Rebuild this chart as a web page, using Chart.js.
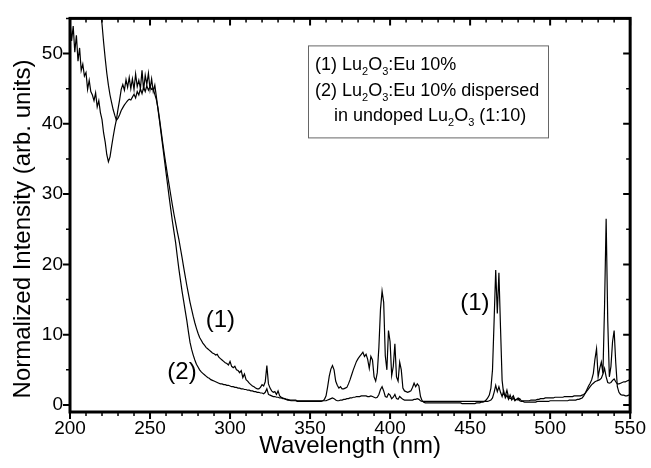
<!DOCTYPE html>
<html>
<head>
<meta charset="utf-8">
<script src="https://cdn.jsdelivr.net/npm/chart.js@4.4.1/dist/chart.umd.min.js"></script>
<style>
  html, body { margin: 0; padding: 0; background: #fff; }
  #wrap { width: 651px; height: 468px; }
</style>
</head>
<body>
<div id="wrap"><canvas id="spectra" width="651" height="468"></canvas></div>
<script>
// excitation spectra, one value per nm from 200 to 550 nm
const WL_START = 200;
const WL_END = 550;

// (1) Lu2O3:Eu 10%
const lu2o3Eu = [
  150, 145, 140, 135, 130, 125, 120, 115, 110, 105,        // 200
  100, 95, 90, 85, 80, 75, 70, 65, 59.5, 56.8,             // 210
  54.2, 51.6, 49.3, 47.2, 45.5, 44.1, 43.0, 42.0, 41.2, 40.5, // 220
  40.8, 41.3, 41.9, 42.3, 42.7, 43.0, 43.3, 43.5, 43.4, 43.8, // 230
  44.2, 43.7, 44.6, 44.1, 45.0, 44.3, 45.2, 44.6, 45.4, 44.8, // 240
  45.3, 44.9, 45.0, 44.2, 43.4, 42.2, 40.6, 38.9, 37.2, 35.6, // 250
  34.1, 32.6, 31.2, 29.8, 28.4, 27.1, 25.9, 24.7, 23.6, 22.3, // 260
  21.0, 19.6, 18.3, 17.0, 15.8, 14.6, 13.6, 12.6, 11.7, 10.9, // 270
  10.2, 9.6, 9.2, 8.8, 8.5, 8.2, 8.0, 7.8, 7.6, 7.4,        // 280
  7.3, 7.1, 7.2, 6.8, 6.6, 6.4, 6.2, 6.0, 5.9, 5.7,         // 290
  6.2, 5.5, 5.3, 5.5, 5.0, 4.9, 4.6, 4.9, 3.9, 4.4,         // 300
  3.6, 3.4, 3.1, 2.9, 2.7, 2.6, 2.4, 2.3, 2.3, 2.5,         // 310
  2.9, 2.7, 3.3, 5.6, 3.0, 2.4, 2.0, 1.8, 1.9, 1.5,         // 320
  2.0, 1.3, 1.1, 1.0, 0.9, 0.8, 0.7, 0.7, 0.6, 0.6,         // 330
  0.6, 0.6, 0.5, 0.5, 0.5, 0.5, 0.5, 0.5, 0.5, 0.5,         // 340
  0.5, 0.5, 0.5, 0.5, 0.5, 0.5, 0.5, 0.5, 0.6, 0.8,         // 350
  1.3, 2.6, 4.1, 5.1, 5.6, 5.0, 3.4, 2.8, 2.4, 2.6,         // 360
  2.3, 2.3, 2.4, 2.5, 3.0, 3.6, 4.3, 5.0, 5.6, 6.2,         // 370
  6.6, 6.9, 7.2, 7.5, 6.9, 7.2, 6.5, 5.2, 6.9, 6.4,         // 380
  4.0, 3.4, 4.6, 8.2, 13.6, 16.2, 14.6, 7.0, 5.0, 10.6,     // 390
  9.0, 4.2, 5.5, 8.7, 4.0, 3.4, 6.1, 5.0, 2.4, 2.0,         // 400
  1.9, 1.8, 1.9, 2.0, 2.5, 3.1, 2.6, 3.0, 2.7, 1.2,         // 410
  0.6, 0.4, 0.3, 0.3, 0.3, 0.3, 0.3, 0.3, 0.3, 0.3,         // 420
  0.3, 0.3, 0.3, 0.3, 0.3, 0.3, 0.3, 0.3, 0.3, 0.3,         // 430
  0.3, 0.3, 0.3, 0.3, 0.3, 0.2, 0.2, 0.2, 0.2, 0.2,         // 440
  0.2, 0.2, 0.2, 0.2, 0.3, 0.3, 0.3, 0.4, 0.4, 0.5,         // 450
  0.7, 1.0, 1.4, 2.4, 5.0, 12.0, 19.2, 13.0, 18.8, 11.0,    // 460
  3.5, 1.5, 1.3, 2.1, 1.1, 0.9, 1.0, 1.3, 0.7, 0.8,         // 470
  1.0, 0.6, 0.5, 0.5, 0.4, 0.4, 0.4, 0.4, 0.4, 0.4,         // 480
  0.4, 0.4, 0.5, 0.5, 0.5, 0.5, 0.5, 0.5, 0.5, 0.5,         // 490
  0.6, 0.6, 0.6, 0.6, 0.6, 0.6, 0.6, 0.6, 0.6, 0.6,         // 500
  0.6, 0.6, 0.7, 0.7, 0.7, 0.7, 0.7, 0.8, 0.8, 0.9,         // 510
  1.0, 1.3, 1.7, 2.2, 2.7, 3.1, 3.6, 4.5, 6.5, 8.0,         // 520
  4.0, 5.2, 6.1, 4.5, 14.0, 26.5, 12.0, 4.0, 5.5, 9.0,      // 530
  10.6, 6.0, 2.6, 1.8, 1.5, 1.4, 1.4, 1.3, 1.3, 1.4,        // 540
  1.4                                                       // 550
];

// (2) Lu2O3:Eu 10% dispersed in undoped Lu2O3 (1:10)
const lu2o3EuDispersed = [
  54.6, 51.8, 53.9, 50.2, 52.6, 48.9, 50.8, 47.6, 48.5, 46.8, // 200
  47.3, 44.9, 46.2, 44.6, 44.1, 43.3, 44.4, 42.4, 43.3, 41.6, // 210
  40.6, 38.7, 37.4, 35.6, 34.6, 35.3, 36.8, 38.2, 39.5, 40.6, // 220
  42.1, 43.4, 44.9, 45.6, 44.8, 46.3, 45.2, 46.6, 45.0, 46.4, // 230
  44.9, 47.1, 45.3, 46.2, 45.0, 47.6, 44.8, 46.9, 45.6, 47.2, // 240
  44.9, 46.4, 44.6, 45.5, 43.8, 42.0, 40.3, 38.5, 36.7, 34.9, // 250
  33.1, 31.3, 29.5, 27.8, 26.1, 24.6, 23.1, 21.2, 19.4, 17.8, // 260
  16.2, 14.8, 13.4, 12.0, 10.4, 8.9, 7.9, 7.1, 6.4, 5.8,    // 270
  5.4, 5.0, 4.7, 4.5, 4.3, 4.1, 3.9, 3.8, 3.6, 3.5,         // 280
  3.4, 3.3, 3.2, 3.1, 3.0, 3.0, 2.9, 2.9, 2.8, 2.8,         // 290
  2.7, 2.6, 2.6, 2.5, 2.5, 2.4, 2.4, 2.3, 2.3, 2.2,         // 300
  2.2, 2.1, 2.1, 2.0, 2.0, 1.9, 1.9, 1.8, 1.8, 1.7,         // 310
  1.7, 1.6, 1.8, 2.3, 1.5, 1.4, 1.3, 1.2, 1.2, 1.1,         // 320
  1.1, 1.0, 1.0, 0.9, 0.9, 0.8, 0.8, 0.7, 0.7, 0.7,         // 330
  0.7, 0.7, 0.6, 0.6, 0.6, 0.6, 0.6, 0.6, 0.6, 0.6,         // 340
  0.6, 0.6, 0.6, 0.6, 0.6, 0.6, 0.6, 0.6, 0.6, 0.6,         // 350
  0.6, 0.7, 0.8, 0.9, 1.0, 0.9, 0.7, 0.6, 0.6, 0.7,         // 360
  0.7, 0.8, 0.8, 0.9, 0.9, 1.0, 1.0, 1.1, 1.1, 1.2,         // 370
  1.2, 1.2, 1.3, 1.3, 1.3, 1.3, 1.2, 1.2, 1.3, 1.2,         // 380
  1.1, 1.0, 1.1, 1.5, 2.2, 2.6, 2.0, 1.2, 1.1, 1.6,         // 390
  1.4, 0.9, 1.1, 1.5, 0.9, 0.8, 1.2, 1.0, 0.8, 0.7,         // 400
  0.7, 0.7, 0.7, 0.7, 0.7, 0.8, 0.8, 0.9, 0.8, 0.6,         // 410
  0.5, 0.5, 0.5, 0.5, 0.5, 0.5, 0.5, 0.5, 0.5, 0.5,         // 420
  0.5, 0.5, 0.5, 0.5, 0.5, 0.5, 0.5, 0.5, 0.5, 0.5,         // 430
  0.5, 0.5, 0.5, 0.5, 0.5, 0.5, 0.5, 0.5, 0.5, 0.5,         // 440
  0.5, 0.5, 0.5, 0.5, 0.5, 0.5, 0.5, 0.5, 0.5, 0.5,         // 450
  0.5, 0.5, 0.6, 0.7, 1.0, 1.8, 2.8, 1.9, 2.6, 1.8,         // 460
  1.2, 2.0, 1.0, 1.4, 0.8, 1.4, 0.7, 1.0, 0.6, 0.8,         // 470
  0.7, 0.9, 0.6, 0.6, 0.6, 0.6, 0.6, 0.6, 0.7, 0.7,         // 480
  0.7, 0.7, 0.8, 0.8, 0.9, 0.9, 0.9, 1.0, 1.0, 1.0,         // 490
  1.0, 1.0, 1.0, 1.1, 1.1, 1.1, 1.1, 1.1, 1.1, 1.2,         // 500
  1.2, 1.2, 1.2, 1.2, 1.2, 1.3, 1.3, 1.3, 1.3, 1.3,         // 510
  1.4, 1.5, 1.7, 2.0, 2.3, 2.6, 2.9, 3.1, 3.3, 3.4,         // 520
  3.5, 3.6, 3.8, 4.4, 5.2, 4.0, 3.2, 3.1, 3.2, 3.5,         // 530
  3.7, 3.3, 3.0, 3.0, 3.1, 3.2, 3.3, 3.3, 3.4, 3.5,         // 540
  3.6                                                       // 550
];

const xTicks = [200, 250, 300, 350, 400, 450, 500, 550];
const yTicks = [0, 10, 20, 30, 40, 50];
const X_MINOR = 10;
const Y_MINOR = 5;

const legendLines = [
  '(1) Lu_2O_3:Eu 10%',
  '(2) Lu_2O_3:Eu 10% dispersed',
  'in undoped Lu_2O_3 (1:10)'
];

// curve labels, placed in data units
const curveLabels = [
  { text: '(1)', nm: 294, value: 12.1 },
  { text: '(2)', nm: 270, value: 4.7 },
  { text: '(1)', nm: 453, value: 14.4 }
];

const FONT = "'Liberation Sans', Arial, sans-serif";

const wavelength = [];
for (let nm = WL_START; nm <= WL_END; nm++) wavelength.push(nm);

const toPoints = (values) => wavelength.map((nm, i) => ({ x: nm, y: values[i] }));

// draws text with "_n" parts as subscripts
function drawRich(ctx, str, x, y, size) {
  const parts = str.split(/_(\d)/);
  parts.forEach((p, i) => {
    if (!p) return;
    if (i % 2 === 1) {
      ctx.font = `${Math.round(size * 0.62)}px ${FONT}`;
      ctx.fillText(p, x, y + size * 0.28);
    } else {
      ctx.font = `${size}px ${FONT}`;
      ctx.fillText(p, x, y);
    }
    x += ctx.measureText(p).width;
  });
  return x;
}

const framePlugin = {
  id: 'frame',
  afterDraw(chart) {
    const { ctx, chartArea: a, scales: { x, y } } = chart;
    ctx.save();
    ctx.strokeStyle = '#000';
    ctx.fillStyle = '#000';

    // x ticks: out at the bottom, in at the top
    for (let v = WL_START; v <= WL_END; v += X_MINOR) {
      const major = xTicks.includes(v);
      const len = major ? 7 : 4;
      const px = x.getPixelForValue(v);
      ctx.lineWidth = major ? 2 : 1.5;
      ctx.beginPath();
      ctx.moveTo(px, a.bottom); ctx.lineTo(px, a.bottom + len);
      ctx.moveTo(px, a.top); ctx.lineTo(px, a.top + len);
      ctx.stroke();
    }
    // y ticks: out on the left, in on the right
    for (let v = 0; v <= y.max; v += Y_MINOR) {
      const major = yTicks.includes(v);
      const len = major ? 7 : 4;
      const py = y.getPixelForValue(v);
      ctx.lineWidth = major ? 2 : 1.5;
      ctx.beginPath();
      ctx.moveTo(a.left - len, py); ctx.lineTo(a.left, py);
      ctx.moveTo(a.right - len, py); ctx.lineTo(a.right, py);
      ctx.stroke();
    }

    ctx.lineWidth = 3;
    ctx.strokeRect(a.left, a.top, a.right - a.left, a.bottom - a.top);

    // legend box
    const bx = a.left + 238, by = a.top + 27, bw = 240, bh = 92;
    ctx.fillStyle = '#fff';
    ctx.fillRect(bx, by, bw, bh);
    ctx.strokeStyle = '#666';
    ctx.lineWidth = 1;
    ctx.strokeRect(bx + 0.5, by + 0.5, bw, bh);
    ctx.fillStyle = '#000';
    ctx.textBaseline = 'alphabetic';
    ctx.textAlign = 'left';
    legendLines.forEach((line, i) => {
      const indent = i === 2 ? 26 : 7;
      drawRich(ctx, line, bx + indent, by + 25 + i * 25.5, 18);
    });

    // curve labels
    ctx.font = `24px ${FONT}`;
    ctx.textAlign = 'center';
    ctx.textBaseline = 'middle';
    curveLabels.forEach(l => {
      ctx.fillText(l.text, x.getPixelForValue(l.nm), y.getPixelForValue(l.value));
    });

    // y axis title
    ctx.save();
    ctx.translate(23, 229);
    ctx.rotate(-Math.PI / 2);
    ctx.fillText('Normalized Intensity (arb. units)', 0, 0);
    ctx.restore();

    ctx.restore();
  }
};

new Chart(document.getElementById('spectra'), {
  type: 'line',
  data: {
    datasets: [
      {
        label: '(1) Lu2O3:Eu 10%',
        data: toPoints(lu2o3Eu),
        borderColor: '#000',
        borderWidth: 1.2,
        pointRadius: 0,
        tension: 0
      },
      {
        label: '(2) Lu2O3:Eu 10% dispersed in undoped Lu2O3 (1:10)',
        data: toPoints(lu2o3EuDispersed),
        borderColor: '#000',
        borderWidth: 1.2,
        pointRadius: 0,
        tension: 0
      }
    ]
  },
  options: {
    responsive: false,
    animation: false,
    layout: { padding: { left: 0, right: 19, top: 16, bottom: 0 } },
    plugins: {
      legend: { display: false },
      tooltip: { enabled: false }
    },
    scales: {
      x: {
        type: 'linear',
        min: WL_START,
        max: WL_END,
        afterBuildTicks: (s) => { s.ticks = xTicks.map(v => ({ value: v })); },
        afterFit: (s) => { s.height = 56; },
        grid: { display: false, drawTicks: false },
        border: { display: false },
        ticks: {
          padding: 5,
          color: '#000',
          font: { family: FONT, size: 19 },
          maxRotation: 0
        },
        title: {
          display: true,
          text: 'Wavelength (nm)',
          color: '#000',
          font: { family: FONT, size: 24 },
          padding: { top: 0, bottom: 7 }
        }
      },
      y: {
        type: 'linear',
        min: -1,
        max: 55,
        afterBuildTicks: (s) => { s.ticks = yTicks.map(v => ({ value: v })); },
        afterFit: (s) => { s.width = 70; },
        grid: { display: false, drawTicks: false },
        border: { display: false },
        ticks: {
          padding: 7,
          color: '#000',
          font: { family: FONT, size: 19 }
        }
      }
    }
  },
  plugins: [framePlugin]
});
</script>
</body>
</html>
